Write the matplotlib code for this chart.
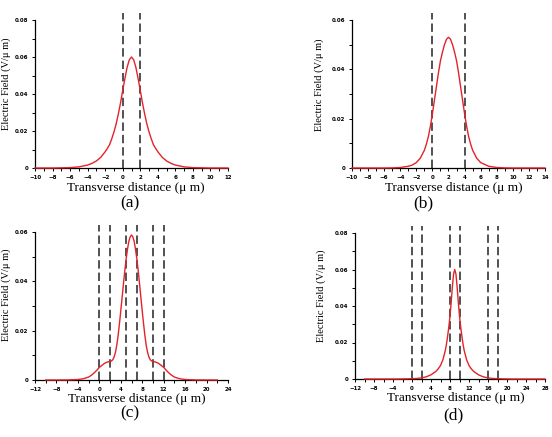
import matplotlib
matplotlib.use("Agg")
import matplotlib.pyplot as plt
from matplotlib.ticker import MultipleLocator, FuncFormatter

# panel (a): one waveguide, dashed edges at 0 and 2
xa = [-10, -8, -7, -6, -5, -4, -3.5, -3, -2.5, -2, -1.75, -1.5, -1.25, -1, -0.75, -0.5, -0.25,
      0, 0.25, 0.5, 0.75, 1, 1.25, 1.5, 1.75, 2, 2.25, 2.5, 2.75, 3, 3.25, 3.5, 3.75, 4, 4.5,
      5, 5.5, 6, 7, 8, 9, 10, 12]
ya = [0, 0, 0.0001, 0.0002, 0.0006, 0.0016, 0.0025, 0.0038, 0.0058, 0.0088, 0.0106, 0.0126,
      0.0158, 0.0195, 0.0238, 0.0292, 0.0352, 0.042, 0.0484, 0.0544, 0.0585, 0.060, 0.0585,
      0.0544, 0.0484, 0.042, 0.0352, 0.0292, 0.0238, 0.0195, 0.0158, 0.0126, 0.0106, 0.0088,
      0.0058, 0.0038, 0.0025, 0.0016, 0.0006, 0.0002, 0.0001, 0, 0]
da = [0, 2]

# panel (b)
xb = [-10, -6, -5, -4, -3, -2.5, -2, -1.5, -1, -0.75, -0.5, -0.25, 0, 0.25, 0.5, 0.75, 1,
      1.25, 1.5, 1.75, 2, 2.25, 2.5, 2.75, 3, 3.25, 3.5, 3.75, 4, 4.25, 4.5, 4.75, 5, 5.5,
      6, 7, 8, 9, 10, 14]
yb = [0, 0, 0.00005, 0.0002, 0.0007, 0.0012, 0.0022, 0.004, 0.0072, 0.0097, 0.0128, 0.017,
      0.022, 0.0275, 0.033, 0.0386, 0.0435, 0.047, 0.050, 0.0522, 0.053, 0.0522, 0.050,
      0.047, 0.0435, 0.0386, 0.033, 0.0275, 0.022, 0.017, 0.0128, 0.0097, 0.0072, 0.004,
      0.0022, 0.0007, 0.0002, 0.00005, 0, 0]
db = [0, 4]

# panel (c): three guides
xc = [-10, -6, -4, -3, -2, -1.5, -1, -0.5, 0, 0.5, 1, 1.5, 2, 2.25, 2.5, 2.75, 3, 3.25, 3.5,
      3.75, 4, 4.25, 4.5, 4.75, 5, 5.25, 5.5, 5.75, 6,
      6.25, 6.5, 6.75, 7, 7.25, 7.5, 7.75, 8, 8.25, 8.5, 8.75, 9, 9.25, 9.5, 9.75, 10, 10.5,
      11, 11.5, 12, 12.5, 13, 13.5, 14, 15, 16, 18, 22]
yc = [0, 0.00003, 0.0002, 0.0005, 0.0012, 0.0019, 0.0028, 0.0039, 0.0051, 0.006, 0.0068,
      0.0073, 0.0075, 0.0077, 0.0082, 0.0093, 0.0112, 0.014, 0.018, 0.0228, 0.028, 0.0335,
      0.039, 0.0443, 0.049, 0.053, 0.0562, 0.058, 0.0588,
      0.058, 0.0562, 0.053, 0.049, 0.0443, 0.039, 0.0335, 0.028, 0.0228, 0.018, 0.014,
      0.0112, 0.0093, 0.0082, 0.0077, 0.0075, 0.0073, 0.0068, 0.006, 0.0051, 0.0039, 0.0028,
      0.0019, 0.0012, 0.0005, 0.0002, 0.00003, 0]
dc = [0, 2, 5, 7, 10, 12]

# panel (d)
xd = [-10, -3, -1, 1, 2, 3, 4, 5, 5.5, 6, 6.5, 7, 7.25, 7.5, 7.75, 8, 8.25, 8.5, 8.75, 9,
      9.25, 9.5, 9.75, 10, 10.25, 10.5, 10.75, 11, 11.5, 12, 12.5, 13, 14, 15, 16, 17, 19,
      21, 28]
yd = [0, 0, 0.0001, 0.0003, 0.0006, 0.0012, 0.0023, 0.0041, 0.0055, 0.0074, 0.0105, 0.0155,
      0.019, 0.0235, 0.0285, 0.0345, 0.042, 0.0505, 0.0575, 0.060,
      0.0575, 0.0505, 0.042, 0.0345, 0.0285, 0.0235, 0.019, 0.0155, 0.0105, 0.0074, 0.0055,
      0.0041, 0.0023, 0.0012, 0.0006, 0.0003, 0.0001, 0, 0]
dd = [0, 2, 8, 10, 16, 18]

W, H = 552, 437
fig = plt.figure(figsize=(W / 100, H / 100), dpi=100)


def box(l, r, t, b):
    return [l / W, 1 - b / H, (r - l) / W, (b - t) / H]


def fmt(v, pos):
    if abs(v) < 1e-9:
        return "0"
    return ("%.2f" % v)


panels = [
    (xa, ya, da, box(35, 228, 20, 168), (-10, 12), 2, 1, 0.08, "(a)", (136, 188), (130, 203), (6, 84)),
    (xb, yb, db, box(352, 545, 20, 168), (-10, 14), 2, 1, 0.06, "(b)", (454, 188), (423, 203), (319, 85)),
    (xc, yc, dc, box(35, 228, 232, 380), (-12, 24), 4, 2, 0.06, "(c)", (137, 399), (130, 413), (6, 295)),
    (xd, yd, dd, box(355, 545, 233, 379), (-12, 28), 4, 2, 0.08, "(d)", (456, 398), (453, 415), (321, 296)),
]

for x, y, dashes, rect, xl, major, minor, ytop, tag, xlab, taglab, ylab in panels:
    ax = fig.add_axes(rect)
    ax.plot(x, y, color="#e3232a", lw=1.0, zorder=4, clip_on=False)
    for d in dashes:
        ax.axvline(d, ymin=0, ymax=1.05, color="#222222", lw=1.1, dashes=(5.5, 2.6),
                   clip_on=False, zorder=3)
    ax.set_xlim(*xl)
    ax.set_ylim(0, ytop)
    ax.xaxis.set_major_locator(MultipleLocator(major))
    ax.xaxis.set_minor_locator(MultipleLocator(minor))
    ax.yaxis.set_major_locator(MultipleLocator(0.02))
    ax.yaxis.set_minor_locator(MultipleLocator(0.01))
    ax.yaxis.set_major_formatter(FuncFormatter(fmt))
    ax.spines["top"].set_visible(False)
    ax.spines["right"].set_visible(False)
    for s in ("left", "bottom"):
        ax.spines[s].set_linewidth(0.9)
    ax.tick_params(which="major", direction="out", length=2.5, width=0.7, labelsize=4, pad=2.5)
    ax.tick_params(which="minor", direction="out", length=2.2, width=0.7)
    for lab in ax.get_xticklabels() + ax.get_yticklabels():
        lab.set_fontweight("bold")
    fig.text(xlab[0] / W, 1 - xlab[1] / H, "Transverse distance (\u03bc m)", ha="center",
             va="center", family="Liberation Serif", fontsize=9.5)
    fig.text(taglab[0] / W, 1 - taglab[1] / H, tag, ha="center", va="center",
             family="Liberation Serif", fontsize=12.5)
    fig.text(ylab[0] / W, 1 - ylab[1] / H, "Electric Field (V/\u03bc m)", ha="center",
             va="center", rotation=90, family="Liberation Serif", fontsize=7.5)

fig.savefig("out.png", dpi=100)
